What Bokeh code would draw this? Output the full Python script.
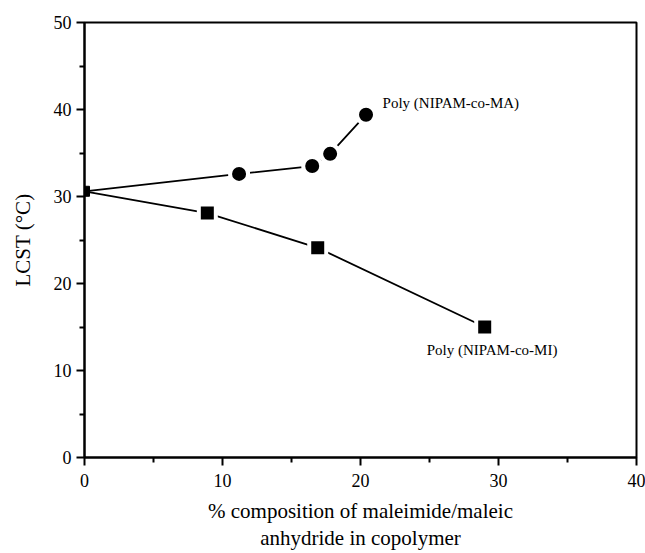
from bokeh.plotting import figure
from bokeh.models import Range1d, Label, FixedTicker
from bokeh.embed import file_html
from bokeh.resources import INLINE

ma_x = [0, 11.2, 16.5, 17.8, 20.4]
ma_y = [30.6, 32.6, 33.5, 34.9, 39.4]
mi_x = [0, 8.9, 16.9, 29.0]
mi_y = [30.6, 28.1, 24.1, 15.0]
x_ticks = [0, 10, 20, 30, 40]
y_ticks = [0, 10, 20, 30, 40, 50]

FONT = "Liberation Serif"

p = figure(width=645, height=553, output_backend="svg", toolbar_location=None,
           x_range=Range1d(0, 40), y_range=Range1d(0, 50),
           min_border_left=84, min_border_right=9, min_border_top=22, min_border_bottom=95)
p.outline_line_color = "black"
p.outline_line_width = 2
p.grid.visible = False
p.background_fill_color = "white"
p.border_fill_color = "white"

for ax in (p.xaxis[0], p.yaxis[0]):
    ax.axis_line_width = 2
    ax.major_tick_line_width = 2
    ax.minor_tick_line_width = 2
    ax.major_tick_out = 8
    ax.major_tick_in = 0
    ax.minor_tick_out = 5
    ax.minor_tick_in = 0
    ax.major_label_text_font = FONT
    ax.major_label_text_font_size = "18px"
    ax.major_label_text_color = "black"
    ax.axis_label_text_font = FONT
    ax.axis_label_text_font_style = "normal"
    ax.axis_label_text_color = "black"

p.xaxis.ticker = FixedTicker(ticks=x_ticks, minor_ticks=[5, 15, 25, 35])
p.yaxis.ticker = FixedTicker(ticks=y_ticks, minor_ticks=[5, 15, 25, 35, 45])
p.xaxis.major_label_standoff = 8
p.xaxis.axis_label = "% composition of maleimide/maleic\nanhydride in copolymer"
p.xaxis.axis_label_text_font_size = "21px"
p.xaxis.axis_label_text_line_height = 1.15
p.xaxis.axis_label_standoff = 9
p.yaxis.axis_label = "LCST (°C)"
p.yaxis.axis_label_text_font_size = "21px"
p.yaxis.axis_label_standoff = 16

p.line(ma_x, ma_y, line_color="black", line_width=1.8)
p.line(mi_x, mi_y, line_color="black", line_width=1.8)
p.scatter(ma_x[1:], ma_y[1:], marker="circle", size=18, fill_color="black",
          line_color="white", line_width=4)
p.scatter(mi_x[1:], mi_y[1:], marker="square", size=17, fill_color="black",
          line_color="white", line_width=4)
p.scatter(mi_x[:1], mi_y[:1], marker="square", size=10, fill_color="black",
          line_color="black", line_width=1)

p.add_layout(Label(x=21.6, y=40.8, text="Poly (NIPAM-co-MA)", text_font=FONT,
                   text_font_size="15px", text_baseline="middle", text_color="black"))
p.add_layout(Label(x=24.8, y=12.3, text="Poly (NIPAM-co-MI)", text_font=FONT,
                   text_font_size="15px", text_baseline="middle", text_color="black"))

open("out.html", "w").write(file_html(p, INLINE))
